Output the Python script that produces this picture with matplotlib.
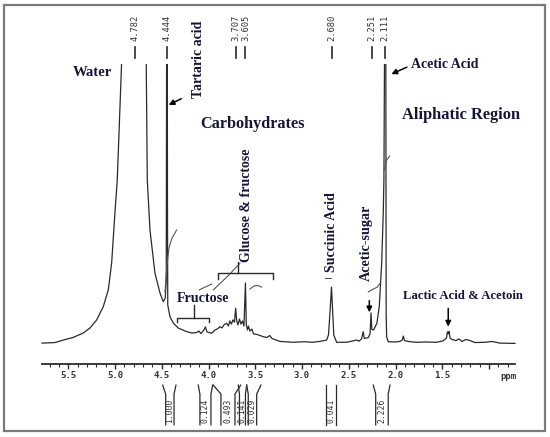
import matplotlib.pyplot as plt
from matplotlib.patches import Rectangle
from matplotlib.ticker import MultipleLocator
import numpy as np

# traced 1H NMR spectrum: chemical shift (ppm) and relative intensity (0 = baseline)
ppm = [5.781, 5.642, 5.553, 5.450, 5.340, 5.268, 5.196, 5.126, 5.072, 5.036,
       5.001, 4.976, 4.952, 4.930, 4.915, 4.782, 4.669, 4.666, 4.655, 4.626,
       4.573, 4.519, 4.484, 4.463, 4.452, 4.449, 4.444, 4.441, 4.439, 4.436,
       4.412, 4.377, 4.324, 4.234, 4.177, 4.127, 4.102, 4.081, 4.049, 4.033,
       4.017, 3.966, 3.931, 3.899, 3.878, 3.856, 3.835, 3.806, 3.787, 3.771,
       3.755, 3.739, 3.722, 3.710, 3.698, 3.685, 3.669, 3.653, 3.637, 3.621,
       3.605, 3.596, 3.583, 3.573, 3.557, 3.535, 3.519, 3.482, 3.414, 3.375,
       3.346, 3.321, 3.236, 3.097, 2.968, 2.894, 2.808, 2.736, 2.717, 2.700,
       2.685, 2.672, 2.660, 2.630, 2.522, 2.466, 2.416, 2.391, 2.364, 2.345,
       2.334, 2.311, 2.290, 2.272, 2.262, 2.253, 2.235, 2.199, 2.174, 2.148,
       2.131, 2.124, 2.118, 2.111, 2.104, 2.102, 2.100, 2.095, 2.078, 2.006,
       1.953, 1.928, 1.917, 1.904, 1.846, 1.774, 1.685, 1.560, 1.493, 1.455,
       1.445, 1.436, 1.427, 1.416, 1.396, 1.354, 1.322, 1.289, 1.246, 1.204,
       1.150, 1.043, 0.968, 0.883, 0.722]
inten = [-0.4, -0.2, 0.7, 1.6, 3.2, 5.0, 7.9, 12.6, 18.6, 28.2,
         46.1, 57.9, 79.3, 99.3, 115, 200, 115, 99.3, 57.9, 40.0,
         24.6, 17.5, 14.4, 15.7, 22.1, 86.4, 200, 115, 50.7, 13.2,
         9.0, 6.8, 5.0, 3.7, 3.2, 3.4, 3.9, 3.0, 4.3, 5.4,
         3.6, 3.1, 4.3, 4.8, 5.5, 5.0, 6.1, 6.7, 5.7, 7.5,
         6.4, 7.9, 7.1, 12.1, 7.5, 6.1, 8.2, 6.4, 7.5, 5.7,
         21.1, 6.1, 4.3, 5.7, 3.9, 4.6, 2.9, 2.7, 1.9, 1.6,
         2.3, 1.25, 0.2, -0.1, 0.1, -0.1, 0.2, 0.7, 2.5, 11.0,
         19.6, 11.0, 2.5, -0.1, -0.1, 0.3, 0.7, 0.3, 1.1, 3.7,
         1.25, 1.4, 1.6, 3.0, 10.4, 4.5, 4.3, 6.7, 12.6, 28.1,
         46.1, 57.9, 99.3, 200, 115, 57.9, 10.4, 1.9, 0.1, 0.0,
         0.2, 0.7, 2.1, 0.5, 0.1, -0.1, 0.0, -0.1, 0.4, 1.4,
         3.6, 2.9, 3.75, 1.4, 0.9, 0.5, 1.1, 0.2, 0.9, 0.5,
         -0.2, -0.1, 0.2, -0.4, -0.5]

# integral traces drawn over the spectrum
int_tartaric = ([4.466, 4.444, 4.423, 4.391, 4.341], [17.9, 27.5, 33.6, 37.1, 40.0])
int_fructose = ([4.099, 4.038, 3.966], [18.6, 19.6, 20.7])
int_glucose = ([3.949, 3.792, 3.664], [18.6, 23.6, 28.1])
int_small = ([3.557, 3.514, 3.471, 3.432], [18.9, 20.0, 20.2, 19.6])
int_succinic = ([2.752, 2.688], [22.9, 22.9])
int_acetic = ([2.290, 2.248, 2.195, 2.163], [17.9, 18.75, 19.6, 21.1])
int_acetic_top = ([2.118, 2.102, 2.064], [61.4, 64.6, 66.4])

# picked peaks
peak_ppm = [4.782, 4.444, 3.707, 3.605, 2.680, 2.251, 2.111]
peak_labels = ["4.782", "4.444", "3.707", "3.605", "2.680", "2.251", "2.111"]

# integral regions (outer edges, inner edges) and values
integ_outer_l = [4.490, 4.110, 3.949, 3.682, 3.592, 2.744, 2.238]
integ_outer_r = [4.348, 3.956, 3.656, 3.592, 3.439, 2.637, 2.059]
integ_inner_l = [4.458, 4.092, 3.867, 3.669, 3.575, 2.744, 2.212]
integ_inner_r = [4.369, 3.974, 3.717, 3.605, 3.485, 2.637, 2.078]
integ_values = ["1.000", "0.124", "0.493", "0.141", "0.029", "0.041", "2.226"]

tick_vals = [5.5, 5.0, 4.5, 4.0, 3.5, 3.0, 2.5, 2.0, 1.5, 1.0]
tick_text = ["5.5", "5.0", "4.5", "4.0", "3.5", "3.0", "2.5", "2.0", "1.5", ""]

TXT = '#15153a'
LINE = '#2a2a2a'
serif = dict(family='Liberation Serif', weight='bold', color=TXT)
mono = dict(family='DejaVu Sans Mono', color='#333333')

fig = plt.figure(figsize=(5.5, 4.37), dpi=100)
ax = fig.add_axes([42/550, (437-364)/437, (515-42)/550, (364-10)/437])
ax.set_xlim(5.781, 0.722)
ax.set_ylim(-7.86, 118.6)

spec, = ax.plot(ppm, inten, color=LINE, lw=0.9)
clip = Rectangle((0.5, -10), 6, 109.3, transform=ax.transData)
spec.set_clip_path(clip)

for xs, ys in [int_tartaric, int_fructose, int_glucose, int_small,
               int_succinic, int_acetic, int_acetic_top]:
    ax.plot(xs, ys, color='#555555', lw=0.8)

# peak markers at top
for p, lab in zip(peak_ppm, peak_labels):
    ax.plot([p, p], [101.3, 105.4], color=LINE, lw=1.2, clip_on=False)
    ax.text(p, 112.2, lab, rotation=90, ha='center', va='center',
            fontsize=6.3, clip_on=False, **mono)

# integral brackets below the axis
top, neck, bot = -15.4, -18.6, -29.6
for ol, orr, il, ir, v in zip(integ_outer_l, integ_outer_r, integ_inner_l,
                              integ_inner_r, integ_values):
    ax.plot([ol, il, il], [top, neck, bot], color=LINE, lw=0.9, clip_on=False)
    ax.plot([orr, ir, ir], [top, neck, bot], color=LINE, lw=0.9, clip_on=False)
    ax.text((il + ir) / 2, -24.6, v, rotation=90, ha='center', va='center',
            fontsize=5.8, clip_on=False, **mono)

# axis styling
for s in ['top', 'left', 'right']:
    ax.spines[s].set_visible(False)
ax.spines['bottom'].set_linewidth(1.3)
ax.spines['bottom'].set_color(LINE)
ax.set_yticks([])
ax.set_xticks(tick_vals)
ax.set_xticklabels(tick_text, fontsize=6.5, family='DejaVu Sans Mono',
                   color='#333333', weight='bold')
ax.xaxis.set_minor_locator(MultipleLocator(0.1))
ax.tick_params(axis='x', which='major', direction='out', length=3.5, width=1, pad=1.5, color=LINE)
ax.tick_params(axis='x', which='minor', direction='out', length=2, width=0.8, color=LINE)
ax.patch.set_alpha(0)
ax.text(0.796, -12.3, "ppm", ha='center', va='center', fontsize=6.5,
        weight='bold', clip_on=False, **mono)

# labels
ax.text(5.247, 96.4, "Water", ha='center', va='center', fontsize=10.6, **serif)
ax.text(4.102, 101.1, "Tartaric acid", rotation=90, ha='center', va='center', fontsize=10, **serif)
ax.text(3.529, 77.9, "Carbohydrates", ha='center', va='center', fontsize=11.7, **serif)
ax.text(1.471, 99.1, "Acetic Acid", ha='center', va='center', fontsize=10, **serif)
ax.text(1.300, 81.2, "Aliphatic Region", ha='center', va='center', fontsize=11.8, **serif)
ax.text(3.594, 48.9, "Glucose & fructose", rotation=90, ha='center', va='center', fontsize=10, **serif)
ax.text(4.059, 15.4, "Fructose", ha='center', va='center', fontsize=10.2, **serif)
ax.text(2.683, 39.1, "Succinic Acid", rotation=90, ha='center', va='center', fontsize=10, **serif)
ax.text(2.309, 35.4, "Acetic-sugar", rotation=90, ha='center', va='center', fontsize=10.2, **serif)
ax.text(1.279, 16.4, "Lactic Acid & Acetoin", ha='center', va='center', fontsize=9.2, **serif)

# arrows
arw = dict(arrowstyle='-|>', color='black', lw=1.1, mutation_scale=8, shrinkA=0, shrinkB=0)
ax.annotate('', xy=(4.426, 84.7), xytext=(4.291, 86.9), arrowprops=arw)
ax.annotate('', xy=(2.044, 95.7), xytext=(1.878, 98.2), arrowprops=arw)
ax.annotate('', xy=(2.280, 10.6), xytext=(2.280, 14.8), arrowprops=arw)
ax.annotate('', xy=(1.436, 5.5), xytext=(1.436, 12.0), arrowprops=arw)

# brackets
ax.plot([4.340, 4.340, 3.991, 3.991], [7.25, 8.68, 8.68, 7.25], color=LINE, lw=1)
ax.plot([4.156, 4.156], [8.68, 13.2], color=LINE, lw=1)
ax.plot([3.896, 3.896, 3.307, 3.307], [22.5, 24.75, 24.75, 22.5], color=LINE, lw=1)
ax.plot([3.680, 3.680], [24.75, 28.6], color=LINE, lw=1)

# outer frame
fig.patches.append(Rectangle((3.5/550, 6/437), 541.5/550, 426/437, transform=fig.transFigure,
                             fill=False, ec='#7a7a7a', lw=1.6))

fig.savefig('out.png', dpi=100)
